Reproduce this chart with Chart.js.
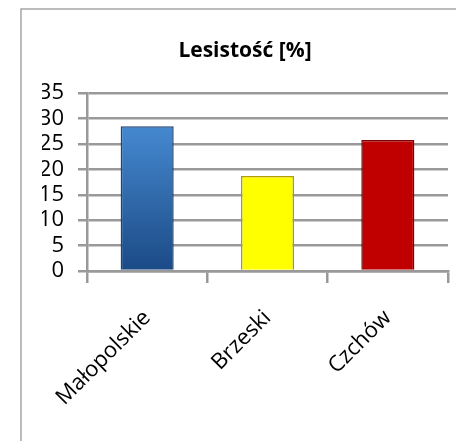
<!DOCTYPE html>
<html>
<head>
<meta charset="utf-8">
<script src="https://cdn.jsdelivr.net/npm/chart.js@4"></script>
<style>
  html, body { margin: 0; padding: 0; background: #fff; }
  #wrap { width: 456px; height: 441px; }
</style>
</head>
<body>
<div id="wrap"><canvas id="chart" width="456" height="441"></canvas></div>
<script>
const categories = ["Małopolskie", "Brzeski", "Czchów"];
const values = [28.5, 18.7, 25.8];
const yTicks = [0, 5, 10, 15, 20, 25, 30, 35];

const FONT = "'Open Sans', sans-serif";

// gradient fills per bar, vertical
function barFill(ctx) {
  const chart = ctx.chart;
  const area = chart.chartArea;
  if (!area) return "#3a7cc8";
  const g = chart.ctx.createLinearGradient(0, area.top, 0, area.bottom);
  if (ctx.dataIndex === 0) {
    g.addColorStop(0, "#4f97e0");
    g.addColorStop(1, "#1b4a86");
    return g;
  }
  if (ctx.dataIndex === 1) return "#ffff00";
  return "#c00000";
}

const frame = {
  id: "frame",
  beforeDraw(chart) {
    const c = chart.ctx;
    c.save();
    c.strokeStyle = "#a6a6a6";
    c.lineWidth = 1.5;
    c.beginPath();
    c.moveTo(21, 441);
    c.lineTo(21, 9);
    c.lineTo(456, 9);
    c.stroke();
    c.restore();
  }
};

new Chart(document.getElementById("chart").getContext("2d"), {
  type: "bar",
  data: {
    labels: categories,
    datasets: [{
      label: "Lesistość [%]",
      data: values,
      backgroundColor: barFill,
      borderColor: ["#1a4478", "#b39b00", "#7a0000"],
      borderWidth: 1.5,
      barPercentage: 0.9,
      categoryPercentage: 0.49
    }]
  },
  options: {
    responsive: false,
    animation: false,
    layout: { padding: { left: 42, right: 8, top: 38, bottom: 0 } },
    plugins: {
      legend: { display: false },
      tooltip: { enabled: false },
      title: {
        display: true,
        text: "Lesistość [%]",
        color: "#000",
        font: { family: FONT, size: 21, weight: "bold", lineHeight: 1.2 },
        padding: { top: 0, bottom: 30 }
      }
    },
    scales: {
      x: {
        afterFit(scale) { scale.height = 170; },
        grid: {
          offset: true,
          drawOnChartArea: false,
          drawTicks: true,
          tickLength: 12,
          color: "#999",
          lineWidth: 2.5
        },
        border: { color: "#999", width: 2.5 },
        ticks: {
          color: "#000",
          font: { family: FONT, size: 22 },
          minRotation: 45,
          maxRotation: 45,
          autoSkip: false,
          padding: 22
        }
      },
      y: {
        min: 0,
        max: 35,
        afterFit(scale) { scale.width = 45; },
        afterBuildTicks(scale) { scale.ticks = yTicks.map(v => ({ value: v })); },
        grid: { color: "#999", lineWidth: 2.5, tickLength: 9 },
        border: { color: "#999", width: 2.5 },
        ticks: {
          color: "#000",
          font: { family: FONT, size: 22 },
          autoSkip: false,
          padding: 14
        }
      }
    }
  },
  plugins: [frame]
});
</script>
</body>
</html>
